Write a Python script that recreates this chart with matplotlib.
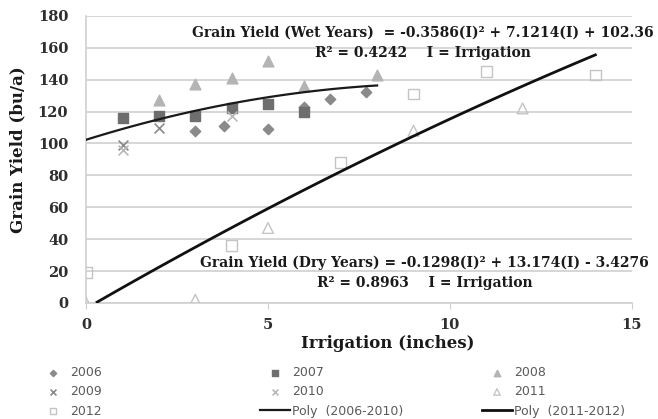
import numpy as np
import matplotlib
matplotlib.use("Agg")
import matplotlib.pyplot as plt

# observed yields (irrigation in inches, yield in bu/a)
irr_2006 = [3, 3.8, 5, 6, 6.7, 7.7]
yld_2006 = [108, 111, 109, 123, 128, 132]
irr_2007 = [1, 2, 3, 4, 5, 6]
yld_2007 = [116, 117, 117, 122, 125, 120]
irr_2008 = [2, 3, 4, 5, 6, 8]
yld_2008 = [127, 137, 141, 152, 136, 143]
irr_2009 = [1, 2]
yld_2009 = [99, 110]
irr_2010 = [1, 4]
yld_2010 = [96, 117]
irr_2011 = [0, 3, 5, 9, 12]
yld_2011 = [0, 2, 47, 108, 122]
irr_2012 = [0, 4, 7, 9, 11, 14]
yld_2012 = [19, 36, 88, 131, 145, 143]

# polynomial fits
wet_coef = [-0.3586, 7.1214, 102.36]
dry_coef = [-0.1298, 13.174, -3.4276]
wet_range = [0, 8]
dry_range = [0.3, 14]

SERIF = "DejaVu Serif"

fig = plt.figure(figsize=(6.58, 4.19), dpi=100)
ax = fig.add_axes([0.131, 0.277, 0.829, 0.685])

ax.scatter(irr_2006, yld_2006, marker="D", s=28, color="#8a8a8a", label="2006", zorder=3)
ax.scatter(irr_2007, yld_2007, marker="s", s=60, color="#6e6e6e", label="2007", zorder=3)
ax.scatter(irr_2008, yld_2008, marker="^", s=60, color="#b4b4b4", label="2008", zorder=3)
ax.scatter(irr_2009, yld_2009, marker="x", s=50, color="#8a8a8a", linewidths=1.2, label="2009", zorder=3)
ax.scatter(irr_2010, yld_2010, marker="x", s=50, color="#b8b8b8", linewidths=1.2, label="2010", zorder=3)
ax.scatter(irr_2011, yld_2011, marker="^", s=60, facecolors="none", edgecolors="#c4c4c4", linewidths=1, label="2011", zorder=3)
ax.scatter(irr_2012, yld_2012, marker="s", s=60, facecolors="none", edgecolors="#c4c4c4", linewidths=1, label="2012", zorder=3)

xw = np.linspace(wet_range[0], wet_range[1], 100)
ax.plot(xw, np.polyval(wet_coef, xw), color="#1a1a1a", lw=1.6, label="Poly  (2006-2010)", zorder=4)
xd = np.linspace(dry_range[0], dry_range[1], 100)
ax.plot(xd, np.polyval(dry_coef, xd), color="#111111", lw=2.0, label="Poly  (2011-2012)", zorder=4)

ax.set_xlim(0, 15)
ax.set_ylim(0, 180)
ax.set_xticks([0, 5, 10, 15])
ax.set_yticks(range(0, 181, 20))
ax.grid(axis="y", color="#d0d0d0", lw=1.2)
ax.set_axisbelow(True)
for s in ["top", "right"]:
    ax.spines[s].set_visible(False)
for s in ["left", "bottom"]:
    ax.spines[s].set_color("#cfcfcf")
    ax.spines[s].set_linewidth(1.2)
ax.tick_params(axis="y", length=0, pad=13)
ax.tick_params(axis="x", length=4, color="#cfcfcf", pad=7)
for lab in ax.get_xticklabels() + ax.get_yticklabels():
    lab.set_fontfamily(SERIF)
    lab.set_fontweight("bold")
    lab.set_fontsize(10.5)
    lab.set_color("#2e2e2e")

lbl = dict(fontfamily=SERIF, fontweight="bold", fontsize=12, color="#1a1a1a", ha="center", va="center")
fig.text(388 / 658, 1 - 344 / 419, "Irrigation (inches)", **lbl)
fig.text(18 / 658, 1 - 150 / 419, "Grain Yield (bu/a)", rotation=90, **lbl)

txt = dict(fontfamily=SERIF, fontweight="bold", fontsize=10, color="#1a1a1a", ha="center", va="center", zorder=5)
ax.text(9.26, 169.4, "Grain Yield (Wet Years)  = -0.3586(I)\u00b2 + 7.1214(I) + 102.36", **txt)
ax.text(9.26, 156.8, "R\u00b2 = 0.4242    I = Irrigation", **txt)
ax.text(9.3, 25.1, "Grain Yield (Dry Years) = -0.1298(I)\u00b2 + 13.174(I) - 3.4276", **txt)
ax.text(9.3, 12.5, "R\u00b2 = 0.8963    I = Irrigation", **txt)

# legend: three separate columns, filled row by row like the original
h, l = ax.get_legend_handles_labels()
columns = [[0, 3, 6], [1, 4, 7], [2, 5, 8]]
col_x = [38, 260, 482]
for idx, x0 in zip(columns, col_x):
    fig.legend([h[i] for i in idx], [l[i] for i in idx], loc="upper left",
               bbox_to_anchor=(x0 / 658, 1 - 366 / 419), frameon=False,
               prop={"family": "DejaVu Sans", "size": 9}, labelcolor="#5a5a5a",
               handlelength=2.4, handletextpad=0.2, labelspacing=0.5,
               borderpad=0, borderaxespad=0, markerscale=0.6)

fig.savefig("out.png", dpi=100)
